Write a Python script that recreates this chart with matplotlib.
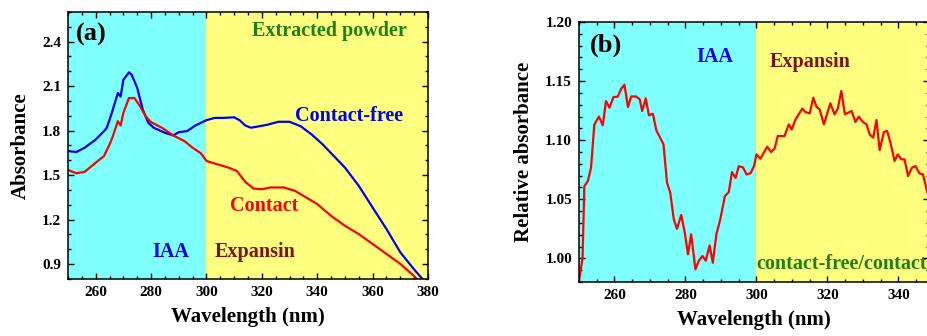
import matplotlib
matplotlib.use('Agg')
import matplotlib.pyplot as plt
from matplotlib.ticker import MultipleLocator

plt.rcParams['font.family'] = ['Liberation Serif', 'DejaVu Serif']
plt.rcParams['font.weight'] = 'bold'

# panel (a) : absorbance of extracted powder
wl_free = [250, 253, 256, 260, 263, 264, 266, 268, 269, 270, 272, 273, 275, 277, 279, 281,
           285, 288, 290, 293, 296, 300, 303, 306, 310, 312, 314, 316, 318, 322, 326, 330,
           334, 338, 342, 346, 350, 355, 360, 365, 370, 375, 378]
abs_free = [1.663, 1.656, 1.685, 1.74, 1.797, 1.819, 1.93, 2.054, 2.03, 2.143, 2.193, 2.177,
            2.088, 1.942, 1.853, 1.819, 1.786, 1.768, 1.79, 1.797, 1.835, 1.871, 1.886, 1.886,
            1.89, 1.87, 1.835, 1.82, 1.826, 1.84, 1.86, 1.86, 1.83, 1.774, 1.707, 1.629,
            1.551, 1.428, 1.282, 1.137, 0.98, 0.864, 0.80]

wl_contact = [250, 253, 256, 260, 263, 265, 266, 268, 269, 270, 272, 274, 276, 278, 280, 284,
              288, 292, 295, 298, 300, 304, 308, 311, 314, 317, 320, 323, 328, 332, 336, 340,
              345, 350, 355, 360, 365, 370, 375, 376]
abs_contact = [1.535, 1.513, 1.522, 1.584, 1.629, 1.707, 1.752, 1.864, 1.835, 1.92, 2.02, 2.02,
               1.965, 1.898, 1.857, 1.819, 1.768, 1.73, 1.685, 1.647, 1.596, 1.573, 1.551,
               1.528, 1.455, 1.41, 1.405, 1.417, 1.417, 1.394, 1.35, 1.305, 1.226, 1.159,
               1.103, 1.036, 0.969, 0.902, 0.819, 0.80]

# panel (b) : contact-free / contact
wl_rel = [250, 251, 251.5, 252.5, 253.4, 254.3, 255.6, 256.7, 257.6, 258.6, 259.7, 260.9,
          261.9, 262.8, 263.8, 264.7, 266.1, 267.1, 267.8, 268.8, 269.7, 270.8, 271.8, 272.7,
          273.8, 274.8, 275.7, 276.7, 277.6, 278.8, 279.8, 280.7, 281.6, 282.8, 283.7, 284.8,
          285.7, 286.8, 287.7, 288.7, 289.8, 291.1, 292.2, 293.1, 294.1, 295.0, 296.2, 297.2,
          298.3, 299.3, 300.0, 301.1, 303, 304.1, 305.1, 306, 307.9, 309.1, 309.9, 311,
          312.9, 313.8, 315, 316, 316.9, 317.8, 319, 320.8, 322, 322.9, 323.9, 324.9, 326.8,
          327.9, 328.8, 330, 331, 331.9, 332.9, 333.8, 334.7, 335.9, 336.8, 337.7, 338.9,
          339.8, 340.8, 341.7, 342.7, 343.8, 344.8, 345.9, 346.9, 348.1, 348.5, 349.5]
rel_abs = [0.981, 1.0005, 1.061, 1.0655, 1.077, 1.113, 1.120, 1.1126, 1.133, 1.1275, 1.1365,
           1.1368, 1.1436, 1.147, 1.128, 1.137, 1.137, 1.1346, 1.1247, 1.1354, 1.121, 1.1224,
           1.1083, 1.103, 1.0965, 1.064, 1.0556, 1.033, 1.025, 1.0367, 1.0217, 1.0034,
           1.0203, 0.9907, 0.9977, 1.002, 0.998, 1.011, 0.9963, 1.0203, 1.033, 1.0527,
           1.0561, 1.073, 1.068, 1.078, 1.077, 1.071, 1.072, 1.078, 1.088, 1.0843, 1.0945,
           1.090, 1.0928, 1.1035, 1.1035, 1.1134, 1.109, 1.1176, 1.1267, 1.1238, 1.1227,
           1.136, 1.1283, 1.126, 1.1134, 1.1312, 1.1219, 1.1267, 1.1416, 1.1219, 1.1247,
           1.1154, 1.1199, 1.1154, 1.1134, 1.1049, 1.1021, 1.1171, 1.0917, 1.1069, 1.1078,
           1.0984, 1.0824, 1.088, 1.0838, 1.0838, 1.0697, 1.0767, 1.0781, 1.0719, 1.0711,
           1.0561, 1.054, 1.050]

CYAN = '#80FFFF'
YELLOW = '#FFFF80'
GREEN = '#1E8010'
MAROON = '#801010'
FS = 14.5


def style(ax, xmaj, xmin, ymaj, ymin):
    ax.xaxis.set_major_locator(MultipleLocator(xmaj))
    ax.xaxis.set_minor_locator(MultipleLocator(xmin))
    ax.yaxis.set_major_locator(MultipleLocator(ymaj))
    ax.yaxis.set_minor_locator(MultipleLocator(ymin))
    ax.tick_params(which='both', direction='in', top=True, right=True, width=1.0,
                   labelsize=11, pad=5)
    ax.tick_params(which='major', length=4)
    ax.tick_params(which='minor', length=2.5)
    for s in ax.spines.values():
        s.set_linewidth(1.1)
    for lab in ax.get_xticklabels() + ax.get_yticklabels():
        lab.set_fontweight('bold')


fig = plt.figure(figsize=(9.28, 3.36), dpi=100)

ax1 = fig.add_axes([68 / 928, 57 / 336, 360 / 928, 267 / 336])
ax1.axvspan(250, 300, color=CYAN, lw=0)
ax1.axvspan(300, 380, color=YELLOW, lw=0)
ax1.plot(wl_free, abs_free, color='#0000F0', lw=1.6)
ax1.plot(wl_contact, abs_contact, color='#FF0000', lw=1.6)
ax1.set_xlim(250, 380)
ax1.set_ylim(0.8, 2.6)
style(ax1, 20, 5, 0.3, 0.1)
ax1.yaxis.set_major_formatter(plt.FormatStrFormatter('%.1f'))
ax1.set_xlabel('Wavelength (nm)', fontsize=15, fontweight='bold', labelpad=6)
ax1.set_ylabel('Absorbance', fontsize=15, fontweight='bold', labelpad=8)
ax1.text(253, 2.45, '(a)', fontsize=19, fontweight='bold', va='center')
ax1.text(344.5, 2.47, 'Extracted powder', color=GREEN, fontsize=FS, fontweight='bold',
         ha='center', va='center')
ax1.text(351.5, 1.90, 'Contact-free', color='#0000F0', fontsize=FS, fontweight='bold',
         ha='center', va='center')
ax1.text(321, 1.29, 'Contact', color='#FF0000', fontsize=FS, fontweight='bold',
         ha='center', va='center')
ax1.text(287, 0.98, 'IAA', color='#0000F0', fontsize=FS, fontweight='bold',
         ha='center', va='center')
ax1.text(317.7, 0.98, 'Expansin', color=MAROON, fontsize=FS, fontweight='bold',
         ha='center', va='center')

ax2 = fig.add_axes([579 / 928, 54 / 336, 350 / 928, 260 / 336])
ax2.axvspan(250, 300, color=CYAN, lw=0)
ax2.axvspan(300, 380, color=YELLOW, lw=0)
ax2.plot(wl_rel, rel_abs, color='#FF0000', lw=1.6)
ax2.set_xlim(250, 348.6)
ax2.set_ylim(0.98, 1.20)
style(ax2, 20, 5, 0.05, 0.01)
ax2.yaxis.set_major_formatter(plt.FormatStrFormatter('%.2f'))
ax2.set_xlabel('Wavelength (nm)', fontsize=15, fontweight='bold', labelpad=6)
ax2.set_ylabel('Relative absorbance', fontsize=15, fontweight='bold', labelpad=8)
ax2.text(253.2, 1.18, '(b)', fontsize=19, fontweight='bold', va='center')
ax2.text(288.3, 1.17, 'IAA', color='#0000F0', fontsize=FS, fontweight='bold',
         ha='center', va='center')
ax2.text(315, 1.166, 'Expansin', color=MAROON, fontsize=FS, fontweight='bold',
         ha='center', va='center')
ax2.text(324, 0.995, 'contact-free/contact', color=GREEN, fontsize=FS, fontweight='bold',
         ha='center', va='center')

fig.savefig('out.png', dpi=100)
